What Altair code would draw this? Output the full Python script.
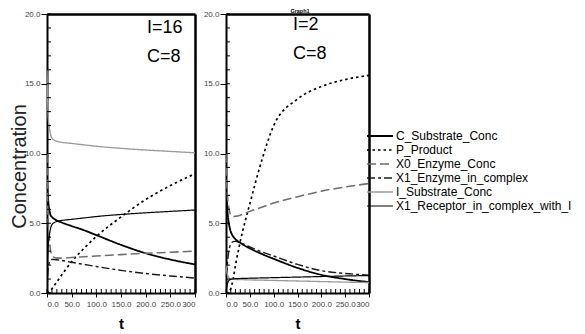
import altair as alt
import pandas as pd

t = [0, 1, 2, 3, 5, 7, 10, 15, 20, 30, 50, 75, 100, 150, 200, 250, 300]
series = ["C_Substrate_Conc", "P_Product", "X0_Enzyme_Conc",
          "X1_Enzyme_in_complex", "I_Substrate_Conc", "X1_Receptor_in_complex_with_I"]

# Left panel (I=16, C=8)
left_C = [8.0, 7.3, 6.8, 6.4, 5.9, 5.6, 5.45, 5.3, 5.2, 5.05, 4.8, 4.5, 4.15, 3.45, 2.85, 2.4, 2.05]
left_P = [0.0, 0.0, 0.02, 0.05, 0.1, 0.18, 0.3, 0.55, 0.8, 1.3, 2.25, 3.2, 4.05, 5.45, 6.7, 7.7, 8.55]
left_X0 = [10.0, 7.0, 5.5, 4.8, 3.8, 3.1, 2.7, 2.55, 2.5, 2.5, 2.55, 2.6, 2.65, 2.75, 2.85, 2.92, 3.0]
left_X1E = [0.0, 0.9, 1.5, 1.9, 2.2, 2.35, 2.4, 2.4, 2.38, 2.33, 2.2, 2.05, 1.9, 1.62, 1.4, 1.22, 1.07]
left_I = [16.0, 14.2, 13.0, 12.4, 11.8, 11.4, 11.1, 10.95, 10.87, 10.8, 10.72, 10.62, 10.52, 10.37, 10.25, 10.15, 10.05]
left_X1R = [0.0, 1.8, 3.0, 3.6, 4.2, 4.6, 4.9, 5.05, 5.13, 5.2, 5.28, 5.38, 5.48, 5.63, 5.75, 5.85, 5.95]

# Right panel (I=2, C=8)
right_C = [8.0, 7.0, 6.4, 5.9, 5.2, 4.8, 4.4, 4.05, 3.85, 3.6, 3.2, 2.8, 2.45, 1.8, 1.3, 1.0, 0.78]
right_P = [0.0, 0.0, 0.02, 0.03, 0.05, 0.1, 0.3, 1.0, 2.0, 3.7, 6.4, 9.5, 12.0, 13.9, 14.8, 15.3, 15.6]
right_X0 = [10.0, 8.5, 7.6, 7.0, 6.3, 5.9, 5.6, 5.48, 5.5, 5.58, 5.85, 6.15, 6.45, 6.9, 7.3, 7.6, 7.85]
right_X1E = [0.0, 0.8, 1.5, 2.1, 2.8, 3.2, 3.5, 3.68, 3.7, 3.6, 3.3, 2.95, 2.65, 2.05, 1.6, 1.4, 1.28]
right_I = [2.0, 1.7, 1.5, 1.35, 1.15, 1.07, 1.02, 0.99, 0.97, 0.96, 0.94, 0.92, 0.9, 0.86, 0.82, 0.78, 0.75]
right_X1R = [0.0, 0.3, 0.5, 0.65, 0.85, 0.93, 0.98, 1.01, 1.03, 1.04, 1.06, 1.08, 1.1, 1.14, 1.18, 1.22, 1.25]

ann_left = ["I=16", "C=8"]
ann_right = ["I=2", "C=8"]
chart_title = "Graph1"

y_major = [0, 5, 10, 15, 20]
y_minor = list(range(0, 21))
x_major = [0, 50, 100, 150, 200, 250, 300]
x_minor = list(range(0, 301, 10))

FONT = "Liberation Sans"
colors = ["#000000", "#000000", "#6e6e6e", "#1a1a1a", "#9a9a9a", "#000000"]
dashes = [[1, 0], [2.5, 3], [9, 4], [8, 3, 3, 3], [1, 0], [1, 0]]
widths = [1.8, 1.2, 1.2, 1.2, 1.0, 1.0]


def long_df(cols):
    rows = []
    for name, vals in zip(series, cols):
        for tt, v in zip(t, vals):
            rows.append({"t": tt, "value": v, "series": name})
    return pd.DataFrame(rows)


df_left = long_df([left_C, left_P, left_X0, left_X1E, left_I, left_X1R])
df_right = long_df([right_C, right_P, right_X0, right_X1E, right_I, right_X1R])

legend = alt.Legend(title=None, orient="none", legendX=319, legendY=116,
                    symbolType="stroke", symbolSize=676, labelFontSize=12,
                    labelFont=FONT, labelColor="#000000", clipHeight=12,
                    rowPadding=2, labelOffset=2, labelLimit=300)

W_L, W_R, H = 148, 143, 279


def panel(df, width, anns, ann_pos, yaxis_title, last_label, extra=None):
    xscale = alt.Scale(domain=[0, 300], nice=False)
    yscale = alt.Scale(domain=[0, 20], nice=False)
    label_expr = f"datum.value == 300 ? '{last_label}' : format(datum.value, '.1f')"
    x_ax = alt.Axis(values=x_major, labelExpr=label_expr, tickSize=4, labelPadding=3,
                    labelOverlap=False, grid=False, domainColor="#000", domainWidth=2,
                    tickColor="#000", labelFont=FONT, labelFontSize=8, labelColor="#444",
                    title="t", titleFont=FONT, titleFontSize=15, titleFontWeight="bold",
                    titleColor="#000", titleBaseline="alphabetic", titleY=35, orient="bottom")
    y_kwargs = dict(values=y_major, format=".1f", tickSize=6, labelPadding=1, grid=False,
                    labelOverlap=False, domainColor="#000", domainWidth=2, tickColor="#000",
                    labelFont=FONT, labelFontSize=8, labelColor="#444", orient="left")
    if yaxis_title:
        y_ax = alt.Axis(title=yaxis_title, titleFont=FONT, titleFontSize=20,
                        titleFontWeight="normal", titleColor="#222", titleAngle=-90,
                        titleBaseline="alphabetic", titleX=-22, titleY=152, **y_kwargs)
    else:
        y_ax = alt.Axis(title=None, **y_kwargs)
    lines = alt.Chart(df).mark_line(interpolate="monotone", clip=True).encode(
        x=alt.X("t:Q", scale=xscale, axis=x_ax),
        y=alt.Y("value:Q", scale=yscale, axis=y_ax),
        color=alt.Color("series:N", scale=alt.Scale(domain=series, range=colors), legend=legend),
        strokeDash=alt.StrokeDash("series:N", scale=alt.Scale(domain=series, range=dashes), legend=legend),
        strokeWidth=alt.StrokeWidth("series:N", scale=alt.Scale(domain=series, range=widths), legend=legend),
        detail="series:N",
    )
    # inward minor ticks
    minor_y = alt.Chart(pd.DataFrame({"v": y_minor})).mark_rule(color="#000", strokeWidth=1).encode(
        y=alt.Y("v:Q", scale=yscale, axis=None), x=alt.value(0), x2=alt.value(4))
    minor_x = alt.Chart(pd.DataFrame({"u": x_minor})).mark_rule(color="#000", strokeWidth=1).encode(
        x=alt.X("u:Q", scale=xscale, axis=None), y=alt.value(H - 4), y2=alt.value(H))
    frame = alt.Chart(df).mark_point(opacity=0).encode(
        x=alt.X("t:Q", scale=xscale,
                axis=alt.Axis(labels=False, ticks=False, domain=True, grid=False, domainColor="#000",
                              domainWidth=2.5, title=None, orient="top")),
        y=alt.Y("value:Q", scale=yscale,
                axis=alt.Axis(labels=False, ticks=False, domain=True, grid=False, domainColor="#000",
                              domainWidth=2.5, title=None, orient="right")),
    )
    layers = [lines, minor_y, minor_x, frame]
    for txt, (px, py) in zip(anns, ann_pos):
        layers.append(
            alt.Chart(pd.DataFrame({"a": [txt]})).mark_text(
                font=FONT, fontSize=18, align="left", baseline="alphabetic", color="#000"
            ).encode(text="a:N", x=alt.value(px), y=alt.value(py))
        )
    if extra is not None:
        layers.append(extra)
    return alt.layer(*layers).resolve_axis(x="independent", y="independent").properties(
        width=width, height=H)


title_layer = alt.Chart(pd.DataFrame({"a": [chart_title]})).mark_text(
    font=FONT, fontSize=5.5, fontWeight="bold", align="center", baseline="bottom", color="#000"
).encode(text="a:N", x=alt.value(74), y=alt.value(-0.5))

left = panel(df_left, W_L, ann_left, [(100, 19), (100, 48)], "Concentration", "300")
right = panel(df_right, W_R, ann_right, [(67, 16), (67, 45)], None, "300", extra=title_layer)

chart = alt.hconcat(left, right, spacing=31, bounds="flush").properties(
    padding={"left": 0, "top": 0, "right": 0, "bottom": 0}
).configure_view(stroke=None).configure(font=FONT)

chart.save("out.html", embed_options={"renderer": "svg", "actions": False})
